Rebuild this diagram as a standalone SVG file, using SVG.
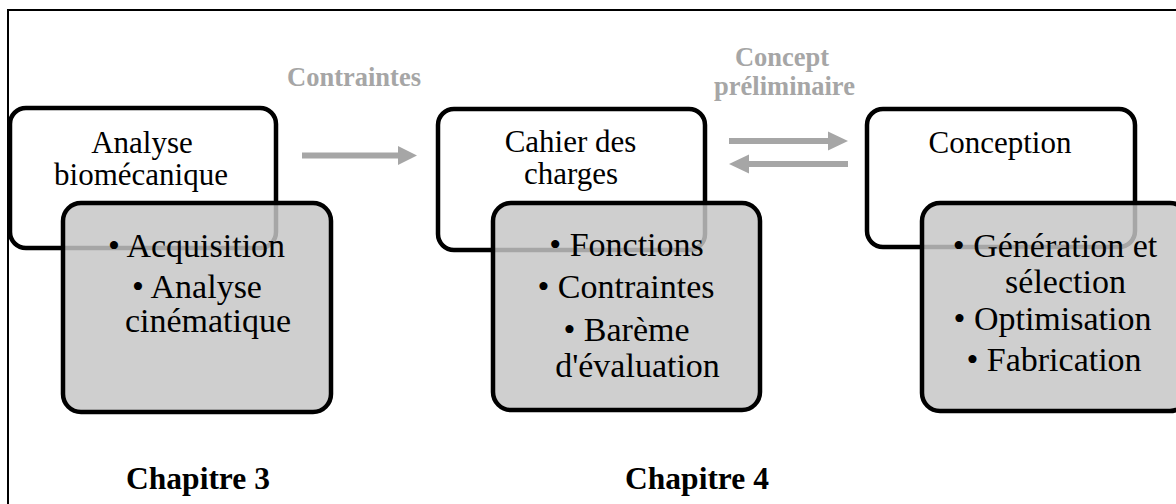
<svg xmlns="http://www.w3.org/2000/svg" width="1176" height="504" viewBox="0 0 1176 504">
<style>
.frame{fill:none;stroke:#000;stroke-width:2}
.hdr{fill:#fff;stroke:#000;stroke-width:4.5}
.sub{fill:#c6c6c6;fill-opacity:0.84;stroke:#000;stroke-width:4.5}
.t{font-family:"Liberation Serif","Times New Roman",serif;fill:#000;text-anchor:middle}
.h{font-size:31px}
.i{font-size:34px}
.lbl{font-family:"Liberation Serif","Times New Roman",serif;font-weight:bold;font-size:26.5px;fill:#a6a6a6;text-anchor:middle}
.ch{font-family:"Liberation Serif","Times New Roman",serif;font-weight:bold;font-size:31.5px;fill:#000;text-anchor:middle}
.arr{fill:#a6a6a6}
</style>
<rect class="frame" x="8" y="10" width="1200" height="520"/>
<g id="node-analyse">
<rect class="hdr" x="10" y="108" width="266" height="140" rx="16"/>
<text class="t h" x="142" y="153">Analyse</text>
<text class="t h" x="141" y="185">biomécanique</text>
</g>
<g id="node-analyse-detail">
<rect class="sub" x="63" y="203" width="268" height="209" rx="18"/>
<text class="t i" x="196.5" y="257">• Acquisition</text>
<text class="t i" x="197" y="298">• Analyse</text>
<text class="t i" x="208" y="332">cinématique</text>
</g>
<g id="node-cahier">
<rect class="hdr" x="438" y="109" width="267" height="141" rx="16"/>
<text class="t h" x="570.5" y="152">Cahier des</text>
<text class="t h" x="571" y="184">charges</text>
</g>
<g id="node-cahier-detail">
<rect class="sub" x="493" y="203" width="267" height="207" rx="18"/>
<text class="t i" x="626.5" y="256">• Fonctions</text>
<text class="t i" x="626" y="298">• Contraintes</text>
<text class="t i" x="626.5" y="341">• Barème</text>
<text class="t i" x="637.5" y="377">d'évaluation</text>
</g>
<g id="node-conception">
<rect class="hdr" x="867" y="109" width="268" height="138" rx="16"/>
<text class="t h" x="1000" y="153">Conception</text>
</g>
<g id="node-conception-detail">
<rect class="sub" x="922" y="203" width="266" height="208" rx="18"/>
<text class="t i" x="1055" y="257">• Génération et</text>
<text class="t i" x="1065.5" y="293">sélection</text>
<text class="t i" x="1052.5" y="330">• Optimisation</text>
<text class="t i" x="1054" y="371">• Fabrication</text>
</g>
<g id="connectors">
<polygon class="arr" points="302,152.5 398,152.5 398,146 417,155.5 398,165 398,158.5 302,158.5"/>
<polygon class="arr" points="729,138 828,138 828,131.5 848,141 828,150.5 828,144 729,144"/>
<polygon class="arr" points="848,161 749,161 749,154.5 729,164 749,173.5 749,167 848,167"/>
<text class="lbl" x="354" y="86">Contraintes</text>
<text class="lbl" x="782" y="66">Concept</text>
<text class="lbl" x="784.5" y="95">préliminaire</text>
</g>
<g id="chapters">
<text class="ch" x="198" y="489">Chapitre 3</text>
<text class="ch" x="697" y="489">Chapitre 4</text>
</g>
</svg>
